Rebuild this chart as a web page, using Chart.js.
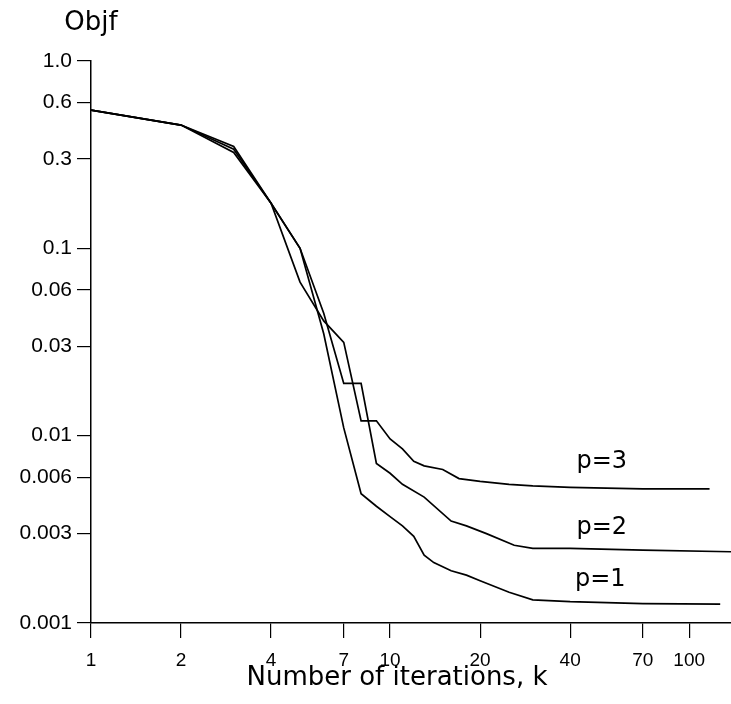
<!DOCTYPE html>
<html>
<head>
<meta charset="utf-8">
<script src="https://cdn.jsdelivr.net/npm/chart.js@4/dist/chart.umd.min.js"></script>
<style>
  html, body { margin: 0; padding: 0; background: #fff; }
  canvas { display: block; }
</style>
</head>
<body>
<canvas id="objf" width="731" height="704"></canvas>
<script>
// iterations (k) and objective values, one pair of arrays per curve
const p1Iters = [1, 2, 3, 4, 5, 6, 7, 8, 9, 10, 11, 12, 13, 14, 16, 18, 20, 25, 30, 40, 70, 127];
const p1Objf = [0.547, 0.455, 0.35, 0.174, 0.1, 0.035, 0.011, 0.0049, 0.0042, 0.0037, 0.0033, 0.0029, 0.0023, 0.0021, 0.0019, 0.0018, 0.00168, 0.00146, 0.00133, 0.0013, 0.00127, 0.00126];

const p2Iters = [1, 2, 3, 4, 5, 6, 7, 8, 9, 10, 11, 13, 16, 18, 21, 26, 30, 40, 70, 138];
const p2Objf = [0.547, 0.455, 0.338, 0.174, 0.1, 0.045, 0.019, 0.019, 0.0071, 0.0063, 0.0055, 0.0047, 0.0035, 0.0033, 0.003, 0.0026, 0.0025, 0.0025, 0.00245, 0.0024];

const p3Iters = [1, 2, 3, 4, 5, 6, 7, 8, 9, 10, 11, 12, 13, 15, 17, 20, 25, 30, 40, 70, 117];
const p3Objf = [0.547, 0.455, 0.325, 0.174, 0.066, 0.041, 0.0315, 0.012, 0.012, 0.0096, 0.0085, 0.0073, 0.0069, 0.0066, 0.0059, 0.0057, 0.0055, 0.0054, 0.0053, 0.0052, 0.0052];

const curveNames = ['p=1', 'p=2', 'p=3'];
// where the curve names sit (left edge / baseline), in data units
const nameIters = [41.5, 42, 42];
const nameObjf = [0.00158, 0.003, 0.00675];

const xTicks = [1, 2, 4, 7, 10, 20, 40, 70, 100];
const yTicks = [1, 0.6, 0.3, 0.1, 0.06, 0.03, 0.01, 0.006, 0.003, 0.001];

const xTitle = 'Number of iterations, k';
const yTitle = 'Objf';

const FONT = '"DejaVu Sans", sans-serif';
const TICK_FONT = '"Liberation Sans", Arial, sans-serif';

const toPoints = (ks, vs) => ks.map((k, i) => ({ x: k, y: vs[i] }));

const line = (label, ks, vs) => ({
    label,
    data: toPoints(ks, vs),
    borderColor: '#000',
    borderWidth: 1.7,
    pointRadius: 0,
    tension: 0,
    fill: false,
});

// text that is not part of the axes: titles and the p= labels next to the curves
const annotate = {
    id: 'annotate',
    afterDraw(chart) {
        const { ctx, chartArea } = chart;
        const { x, y } = chart.scales;
        ctx.save();
        ctx.fillStyle = '#000';
        ctx.textBaseline = 'alphabetic';

        ctx.font = '24px ' + FONT;
        ctx.textAlign = 'left';
        curveNames.forEach((name, i) => {
            ctx.fillText(name, x.getPixelForValue(nameIters[i]), y.getPixelForValue(nameObjf[i]));
        });

        ctx.font = '26px ' + FONT;
        ctx.textAlign = 'center';
        ctx.fillText(yTitle, chartArea.left, 30);
        ctx.fillText(xTitle, 397, 685);
        ctx.restore();
    }
};

const axisGrid = {
    display: true,
    drawOnChartArea: false,
    drawTicks: true,
    tickLength: 15,
    tickColor: '#000',
    color: '#000',
    lineWidth: 1.2,
};

new Chart(document.getElementById('objf'), {
    type: 'line',
    data: {
        datasets: [
            line('p=1', p1Iters, p1Objf),
            line('p=2', p2Iters, p2Objf),
            line('p=3', p3Iters, p3Objf),
        ]
    },
    options: {
        responsive: false,
        animation: false,
        layout: { padding: { top: 61, right: 0, left: 0, bottom: 0 } },
        plugins: {
            legend: { display: false },
            tooltip: { enabled: false },
            title: { display: false },
        },
        scales: {
            x: {
                type: 'logarithmic',
                min: 1,
                max: 138,
                grid: axisGrid,
                border: { display: true, color: '#000', width: 1.5 },
                afterBuildTicks: (scale) => { scale.ticks = xTicks.map(v => ({ value: v })); },
                afterFit: (scale) => { scale.height = 81; },
                ticks: {
                    autoSkip: false,
                    maxRotation: 0,
                    color: '#000',
                    padding: 11,
                    font: { family: TICK_FONT, size: 19 },
                    callback: (v) => String(v),
                },
            },
            y: {
                type: 'logarithmic',
                min: 0.001,
                max: 1,
                grid: { ...axisGrid, tickLength: 14 },
                border: { display: true, color: '#000', width: 1.5 },
                afterBuildTicks: (scale) => { scale.ticks = yTicks.map(v => ({ value: v })); },
                afterFit: (scale) => { scale.width = 91; },
                ticks: {
                    autoSkip: false,
                    color: '#000',
                    padding: 5,
                    font: { family: TICK_FONT, size: 21 },
                    callback: (v) => (v === 1 ? '1.0' : String(v)),
                },
            },
        },
    },
    plugins: [annotate],
});
</script>
</body>
</html>
